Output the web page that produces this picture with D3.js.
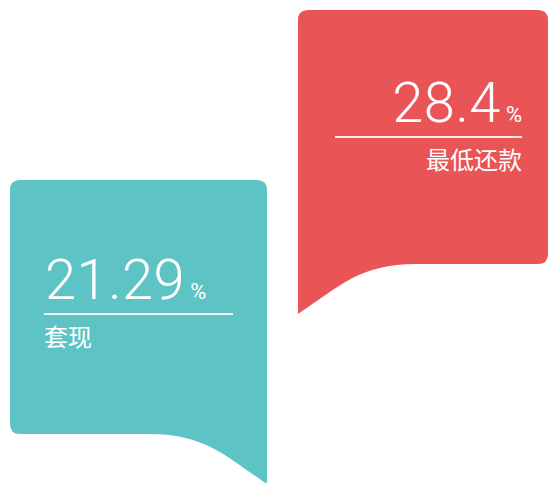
<!DOCTYPE html>
<html>
<head>
<meta charset="utf-8">
<script src="https://cdn.jsdelivr.net/npm/d3@7"></script>
<style>
  html, body { margin: 0; padding: 0; background: #fff; overflow: hidden; }
</style>
</head>
<body>
<div id="chart"></div>
<script>
(function bubbles() {

    const WIDTH = 550;
    const HEIGHT = 483;

    // data
    const categories = ["套现", "最低还款"];
    const values = [21.29, 28.4];
    const colors = ["#5ec3c4", "#e95557"];

    const svg = d3.select("#chart").append("svg")
        .attr("width", WIDTH)
        .attr("height", HEIGHT);

    // left / right edge of each bubble
    const xLeft = d3.scaleOrdinal().domain(categories).range([10, 298]);
    const xRight = d3.scaleOrdinal().domain(categories).range([267, 548]);

    // bubble top and rule line, placed by value
    const yTop = d3.scaleLinear().domain([21.29, 28.4]).range([180, 10]);
    const yRule = d3.scaleLinear().domain([21.29, 28.4]).range([314, 137]);

    const bodyH = 254;
    const tailH = 50;
    const r = 10;

    function bubblePath(x0, x1, top, tailRight) {
        const bot = top + bodyH;
        const tip = bot + tailH;
        const p = d3.path();
        p.moveTo(x0 + r, top);
        p.lineTo(x1 - r, top);
        p.quadraticCurveTo(x1, top, x1, top + r);
        if (tailRight) {
            p.lineTo(x1, tip);
            p.bezierCurveTo(x1 - 42, tip - 28, x1 - 62, bot, x1 - 118, bot);
            p.lineTo(x0 + r, bot);
            p.quadraticCurveTo(x0, bot, x0, bot - r);
        } else {
            p.lineTo(x1, bot - r);
            p.quadraticCurveTo(x1, bot, x1 - r, bot);
            p.lineTo(x0 + 118, bot);
            p.bezierCurveTo(x0 + 62, bot, x0 + 42, tip - 28, x0, tip);
        }
        p.lineTo(x0, top + r);
        p.quadraticCurveTo(x0, top, x0 + r, top);
        p.closePath();
        return p.toString();
    }

    const items = categories.map((c, i) => ({ cat: c, value: values[i], color: colors[i], i: i }));

    const g = svg.selectAll("g.bubble")
        .data(items)
        .join("g")
        .attr("class", "bubble");

    g.append("path")
        .attr("d", d => bubblePath(xLeft(d.cat), xRight(d.cat), yTop(d.value), d.i === 0))
        .attr("fill", d => d.color);

    // left bubble text is left aligned, right bubble text is right aligned
    g.each(function (d) {
        const sel = d3.select(this);
        const left = d.i === 0;
        const x0 = xLeft(d.cat);
        const x1 = xRight(d.cat);
        const lineL = left ? x0 + 34 : x0 + 37;
        const lineR = left ? x0 + 223 : x1 - 26;
        const ry = yRule(d.value);

        const t = sel.append("text")
            .attr("x", left ? lineL + 1 : lineR)
            .attr("y", ry - 15)
            .attr("text-anchor", left ? "start" : "end")
            .attr("fill", "#fff")
            .style("font-family", "Roboto, 'DejaVu Sans', sans-serif")
            .style("font-weight", 300)
            .style("font-size", "56px")
            .style("letter-spacing", "0.5px");
        t.append("tspan").text(d.value);
        t.append("tspan")
            .style("font-size", "22px")
            .style("font-weight", 400)
            .style("letter-spacing", "0px")
            .attr("dx", "5")
            .text("%");

        sel.append("line")
            .attr("x1", lineL)
            .attr("x2", lineR)
            .attr("y1", ry)
            .attr("y2", ry)
            .attr("stroke", "#fff")
            .attr("stroke-opacity", 0.85)
            .attr("stroke-width", 2);

        sel.append("text")
            .attr("x", left ? lineL : lineR)
            .attr("y", ry + 32)
            .attr("text-anchor", left ? "start" : "end")
            .attr("fill", "#fff")
            .style("font-family", "'Noto Sans CJK SC', sans-serif")
            .style("font-size", "24px")
            .text(d.cat);
    });

})();
</script>
</body>
</html>
